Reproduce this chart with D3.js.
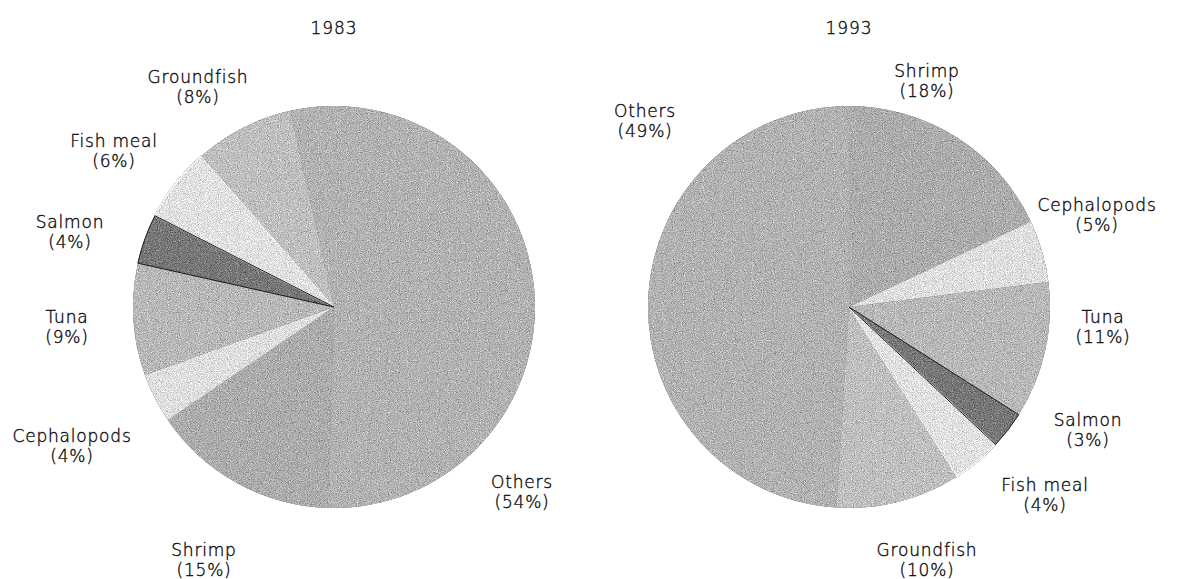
<!DOCTYPE html>
<html>
<head>
<meta charset="utf-8">
<script src="https://cdn.jsdelivr.net/npm/d3@7"></script>
<style>
  html, body { margin: 0; padding: 0; background: #fff; }
  svg { display: block; }
  text { font-family: "DejaVu Sans", "Lato", sans-serif; font-weight: 200; fill: #111; stroke: #111; stroke-width: 0.4px; }
</style>
</head>
<body>
<svg id="chart" width="1182" height="579"></svg>
<script>
// Share of fishery exports by product, two survey years
const years = ["1983", "1993"];
const categories = ["Others", "Shrimp", "Cephalopods", "Tuna", "Salmon", "Fish meal", "Groundfish"];
const share1983 = [54, 15, 4, 9, 4, 6, 8];
const share1993 = [49, 18, 5, 11, 3, 4, 10];

// Grey tone per product
const tones = {
  "Others": "#a9a9a9",
  "Shrimp": "#a3a3a3",
  "Cephalopods": "#d6d6d6",
  "Tuna": "#afafaf",
  "Salmon": "#6e6e6e",
  "Fish meal": "#d8d8d8",
  "Groundfish": "#b6b6b6"
};

// Layout of each pie: centre, rotation of the first slice (degrees clockwise from 12 o'clock)
const pies = [
  { year: years[0], values: share1983, cx: 334, cy: 307, rotate: -12.6,
    labels: { "Others": [188, 185], "Shrimp": [-130, 253], "Cephalopods": [-262, 139],
              "Tuna": [-267, 20], "Salmon": [-264, -75], "Fish meal": [-220, -156],
              "Groundfish": [-136, -220] } },
  { year: years[1], values: share1993, cx: 849, cy: 307, rotate: 183.6,
    labels: { "Others": [-204, -186], "Shrimp": [78, -226], "Cephalopods": [248, -92],
              "Tuna": [254, 20], "Salmon": [239, 123], "Fish meal": [196, 188],
              "Groundfish": [78, 253] } }
];
const radius = 201;

const svg = d3.select("#chart");

// Halftone-like grain over the slice fills
const defs = svg.append("defs");
const f = defs.append("filter").attr("id", "grain")
  .attr("x", 0).attr("y", 0).attr("width", "100%").attr("height", "100%")
  .attr("color-interpolation-filters", "sRGB");
f.append("feTurbulence").attr("type", "fractalNoise").attr("baseFrequency", 1.1)
  .attr("numOctaves", 1).attr("seed", 7).attr("result", "n");
f.append("feColorMatrix").attr("in", "n").attr("type", "matrix")
  .attr("values", "0.33 0.33 0.33 0 0 0.33 0.33 0.33 0 0 0.33 0.33 0.33 0 0 0 0 0 0 1")
  .attr("result", "g");
f.append("feComposite").attr("in", "SourceGraphic").attr("in2", "g")
  .attr("operator", "arithmetic").attr("k1", 0).attr("k2", 1).attr("k3", 1.2).attr("k4", -0.56)
  .attr("result", "m");
f.append("feComposite").attr("in", "m").attr("in2", "SourceGraphic").attr("operator", "in");

const arc = d3.arc().innerRadius(0).outerRadius(radius);
const deg = Math.PI / 180;

pies.forEach(p => {
  const data = categories.map((c, i) => ({ name: c, value: p.values[i] }));
  const pie = d3.pie().sort(null).value(d => d.value)
    .startAngle(p.rotate * deg).endAngle(p.rotate * deg + 2 * Math.PI);
  const arcs = pie(data);

  const g = svg.append("g").attr("transform", `translate(${p.cx},${p.cy})`);

  const slices = g.append("g").attr("filter", "url(#grain)");
  slices.selectAll("path")
    .data(arcs)
    .join("path")
    .attr("d", arc)
    .attr("fill", d => tones[d.data.name])
    .attr("stroke", d => d.data.name === "Fish meal" ? "#ffffff" : "none")
    .attr("stroke-width", 1.2);

  // Dark outline around the salmon wedge
  g.append("path")
    .datum(arcs.find(a => a.data.name === "Salmon"))
    .attr("d", arc)
    .attr("fill", "none")
    .attr("stroke", "#1c1c1c")
    .attr("stroke-width", 1);

  // Year heading
  svg.append("text")
    .attr("x", p.cx).attr("y", 34)
    .attr("text-anchor", "middle")
    .attr("font-size", 17)
    .attr("letter-spacing", 0.9)
    .text(p.year);

  // Two-line slice labels: name and share
  const lab = g.selectAll("text.lab")
    .data(arcs)
    .join("text")
    .attr("class", "lab")
    .attr("text-anchor", "middle")
    .attr("font-size", 17)
    .attr("letter-spacing", 0.8)
    .attr("transform", d => `translate(${p.labels[d.data.name][0]},${p.labels[d.data.name][1]})`);
  lab.append("tspan").attr("x", 0).attr("y", -4).text(d => d.data.name);
  lab.append("tspan").attr("x", 0).attr("y", 16).text(d => `(${d.data.value}%)`);
});
</script>
</body>
</html>
